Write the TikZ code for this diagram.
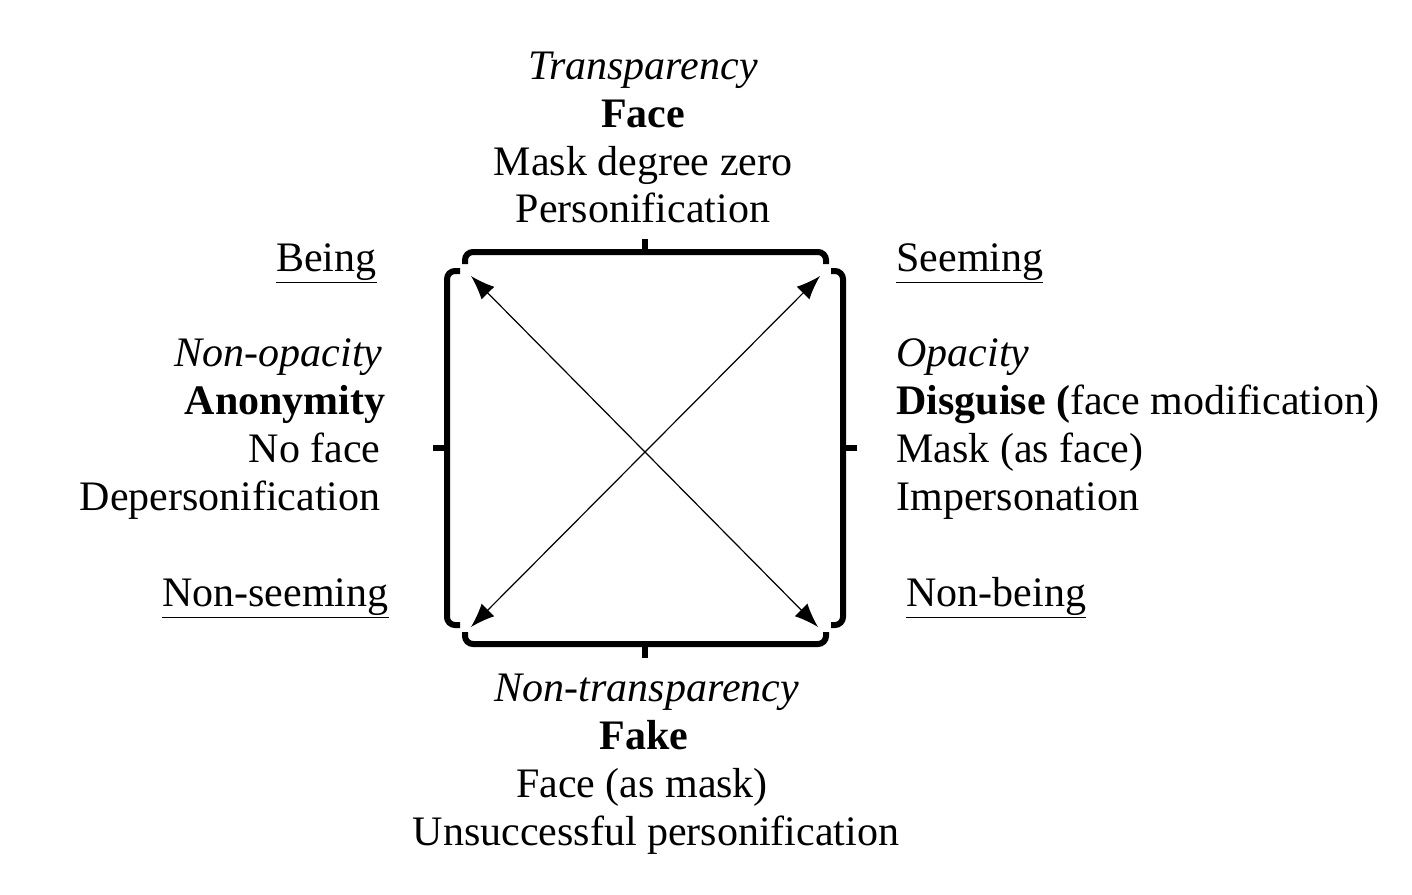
\documentclass[tikz,border=0pt]{standalone}
\usepackage{fontspec}
\setmainfont{Liberation Serif}
\usetikzlibrary{arrows.meta}
\begin{document}
\begin{tikzpicture}[x=0.5pt,y=-0.5pt,
  txt/.style={inner sep=0pt,font=\fontsize{21}{24}\selectfont},
  ctr/.style={txt,anchor=base},
  rgt/.style={txt,anchor=base east},
  lft/.style={txt,anchor=base west},
  brace/.style={line width=3pt,rounded corners=4pt},
  tickln/.style={line width=3pt},
  arr/.style={line width=0.6pt,{Latex[length=12pt,width=9pt]}-{Latex[length=12pt,width=9pt]}}]
\useasboundingbox (0,0) rectangle (1412,894);
% top
\node[ctr] (t1) at (643,79) {\textit{Transparency}};
\node[ctr] (t2) at (643,127) {\textbf{Face}};
\node[ctr] (t3) at (643,175) {Mask degree zero};
\node[ctr] (t4) at (643,222) {Personification};
% corners
\node[rgt] (being) at (377,271) {\underline{Being}};
\node[lft] (seeming) at (896,271) {\underline{Seeming}};
\node[rgt] (nonseeming) at (389,606) {\underline{Non-seeming}};
\node[lft] (nonbeing) at (906,606) {\underline{Non-being}};
% left
\node[rgt] (l1) at (383,366) {\textit{Non-opacity}};
\node[rgt] (l2) at (386,414) {\textbf{Anonymity}};
\node[rgt] (l3) at (381,462) {No face};
\node[rgt] (l4) at (381,510) {Depersonification};
% right
\node[lft] (r1) at (896,366) {\textit{Opacity}};
\node[lft] (r2) at (896,414) {\textbf{Disguise (}face modification)};
\node[lft] (r3) at (896,462) {Mask (as face)};
\node[lft] (r4) at (896,510) {Impersonation};
% bottom
\node[ctr] (b1) at (647,701) {\textit{Non-transparency}};
\node[ctr] (b2) at (644,749) {\textbf{Fake}};
\node[ctr] (b3) at (642,797) {Face (as mask)};
\node[ctr] (b4) at (656,845) {Unsuccessful personification};
% braces
\draw[brace] (465,264) |- (826,252) -- (826,264);
\draw[tickln] (645,252) -- (645,239);
\draw[brace] (465,632) |- (826,644) -- (826,632);
\draw[tickln] (645,644) -- (645,658);
\draw[brace] (460,271) -| (447,625) -- (460,625);
\draw[tickln] (447,448) -- (433,448);
\draw[brace] (831,271) -| (843,625) -- (831,625);
\draw[tickln] (843,448) -- (857,448);
% arrows
\coordinate (tl) at (471,276);
\coordinate (br) at (818,627);
\coordinate (tr) at (820,276);
\coordinate (bl) at (471,627);
\draw[arr] (tl) -- (br);
\draw[arr] (tr) -- (bl);
\end{tikzpicture}
\end{document}
